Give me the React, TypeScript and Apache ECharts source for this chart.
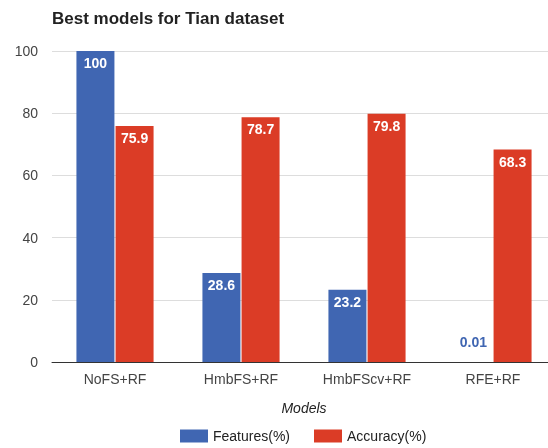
import React, { useEffect, useRef } from "react";
import * as echarts from "echarts";

const categories = ["NoFS+RF", "HmbFS+RF", "HmbFScv+RF", "RFE+RF"];
const features = [100, 28.6, 23.2, 0.01];
const accuracy = [75.9, 78.7, 79.8, 68.3];
const yTicks = [0, 20, 40, 60, 80, 100];

const BLUE = "#4066b2";
const RED = "#db3c26";
const FONT = "'Liberation Sans', Arial, sans-serif";

export default function App() {
  const ref = useRef<HTMLDivElement>(null);
  useEffect(() => {
    if (!ref.current) return;
    const chart = echarts.init(ref.current, null, { renderer: "svg" });
    chart.setOption({
      animation: false,
      textStyle: { fontFamily: FONT },
      title: {
        text: "Best models for Tian dataset",
        left: 47,
        top: 5,
        textStyle: { fontSize: 17, fontWeight: "bold", color: "#222", fontFamily: FONT },
      },
      grid: {
        left: 52,
        right: -8,
        top: 51,
        bottom: 86,
        containLabel: false,
        outerBoundsMode: "none",
      },
      legend: {
        top: 424,
        left: 175,
        itemWidth: 28,
        itemHeight: 13,
        itemGap: 24,
        icon: "rect",
        textStyle: { fontSize: 14, color: "#222", fontFamily: FONT },
        data: ["Features(%)", "Accuracy(%)"],
      },
      xAxis: {
        type: "category",
        data: categories,
        name: "Models",
        nameLocation: "middle",
        nameGap: 39,
        nameTextStyle: { fontStyle: "italic", fontSize: 14, color: "#222", fontFamily: FONT },
        axisTick: { show: false },
        axisLine: { lineStyle: { color: "#333", width: 1 } },
        axisLabel: { fontSize: 14, color: "#444", margin: 10, fontFamily: FONT },
      },
      yAxis: {
        type: "value",
        min: yTicks[0],
        max: yTicks[yTicks.length - 1],
        interval: 20,
        axisLine: { show: false },
        axisTick: { show: false },
        axisLabel: { fontSize: 14, color: "#444", margin: 14, fontFamily: FONT },
        splitLine: { lineStyle: { color: "#ddd" } },
      },
      series: [
        {
          name: "Features(%)",
          type: "bar",
          barWidth: 38,
          barGap: "3%",
          itemStyle: { color: BLUE },
          data: features.map((v) =>
            v < 5
              ? {
                  value: v,
                  label: { position: "top", color: BLUE, distance: 13 },
                }
              : v
          ),
          label: {
            show: true,
            position: "insideTop",
            distance: 5,
            color: "#fff",
            fontWeight: "bold",
            fontSize: 14,
            fontFamily: FONT,
          },
        },
        {
          name: "Accuracy(%)",
          type: "bar",
          barWidth: 38,
          barGap: "3%",
          itemStyle: { color: RED },
          data: accuracy,
          label: {
            show: true,
            position: "insideTop",
            distance: 5,
            color: "#fff",
            fontWeight: "bold",
            fontSize: 14,
            fontFamily: FONT,
          },
        },
      ],
    });
    return () => chart.dispose();
  }, []);
  return (
    <div
      ref={ref}
      style={{ position: "fixed", left: 0, top: 0, width: 548, height: 448 }}
    />
  );
}
